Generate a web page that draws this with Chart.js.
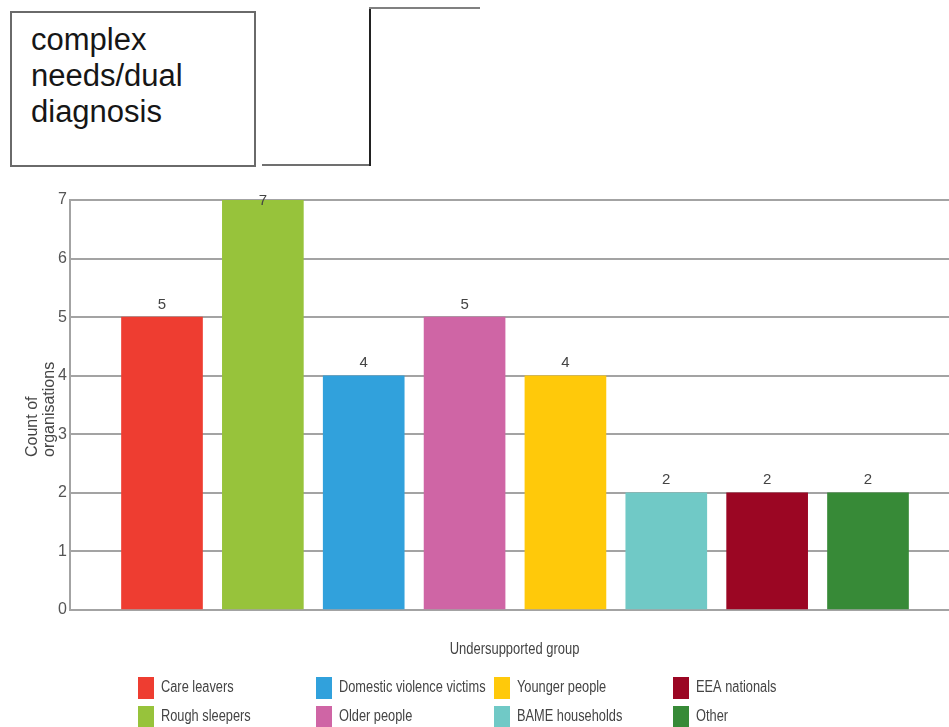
<!DOCTYPE html>
<html>
<head>
<meta charset="utf-8">
<script src="https://cdn.jsdelivr.net/npm/chart.js@4/dist/chart.umd.min.js"></script>
<style>
  html, body { margin: 0; padding: 0; background: #fff; }
  body { width: 949px; height: 727px; position: relative; overflow: hidden; }
  #chart { position: absolute; left: 0; top: 0; }
  .box {
    position: absolute; left: 10px; top: 11px; width: 242px; height: 152px;
    border: 2px solid #6a6a6a; background: #fff; z-index: 2;
  }
  .box .txt {
    position: absolute; left: 19px; top: 9px;
    font-family: "Liberation Sans", Arial, sans-serif; font-size: 31px; line-height: 36px;
    color: #161616;
  }
  .ln { position: absolute; z-index: 2; }
</style>
</head>
<body>
<div class="box"><div class="txt">complex<br>needs/dual<br>diagnosis</div></div>
<div class="ln" style="left:262px; top:164px; width:109px; height:2px; background:#707070;"></div>
<div class="ln" style="left:369px; top:7px; width:2px; height:159px; background:#222;"></div>
<div class="ln" style="left:369px; top:7px; width:111px; height:2px; background:#808080;"></div>
<canvas id="chart" width="949" height="727"></canvas>
<script>
// Organisations reporting each group as undersupported
const categories = [
  'Care leavers', 'Rough sleepers', 'Domestic violence victims', 'Older people',
  'Younger people', 'BAME households', 'EEA nationals', 'Other'
];
const counts = [5, 7, 4, 5, 4, 2, 2, 2];
const barColors = ['#ee3d31', '#97c33b', '#31a1dc', '#cf65a5', '#ffc90a', '#70c9c6', '#9b0623', '#378a37'];
const yTicks = [0, 1, 2, 3, 4, 5, 6, 7];
const xTitle = 'Undersupported group';
const yTitle = ['Count of', 'organisations'];

const SANS = '"Liberation Sans", Arial, sans-serif';

// Draw text squeezed horizontally (condensed look)
function condensedText(ctx, text, x, y, squeeze) {
  ctx.save();
  ctx.translate(x, y);
  ctx.scale(squeeze, 1);
  ctx.fillText(text, 0, 0);
  ctx.restore();
}

// Value printed above each bar
const valueLabels = {
  id: 'valueLabels',
  afterDatasetsDraw(chart) {
    const ctx = chart.ctx;
    const meta = chart.getDatasetMeta(0);
    ctx.save();
    ctx.font = '15px ' + SANS;
    ctx.fillStyle = '#444';
    ctx.textAlign = 'center';
    ctx.textBaseline = 'bottom';
    meta.data.forEach((bar, i) => {
      const y = Math.max(bar.y - 5, chart.chartArea.top + 8);
      ctx.fillText(String(counts[i]), bar.x, y);
    });
    ctx.restore();
  }
};

// Axis titles: rotated two-line y title and condensed x title
const axisTitles = {
  id: 'axisTitles',
  afterDraw(chart) {
    const ctx = chart.ctx;
    const area = chart.chartArea;
    ctx.save();
    ctx.fillStyle = '#444';
    ctx.font = '16px ' + SANS;
    ctx.textAlign = 'left';
    ctx.textBaseline = 'middle';
    const xs = [33, 50];
    yTitle.forEach((line, i) => {
      ctx.save();
      ctx.translate(xs[i], 457);
      ctx.rotate(-Math.PI / 2);
      ctx.fillText(line, 0, 0);
      ctx.restore();
    });
    ctx.textAlign = 'center';
    condensedText(ctx, xTitle, (area.left + area.right) / 2 + 5, area.bottom + 40, 0.81);
    ctx.restore();
  }
};

// Legend in four columns of two entries
const gridLegend = {
  id: 'gridLegend',
  afterDraw(chart) {
    const ctx = chart.ctx;
    const colX = [138, 316, 494, 673];
    const rowY = [677, 706];
    ctx.save();
    ctx.font = '16px ' + SANS;
    ctx.textBaseline = 'middle';
    ctx.textAlign = 'left';
    categories.forEach((name, i) => {
      const c = Math.floor(i / 2), r = i % 2;
      const x = colX[c], y = rowY[r];
      ctx.fillStyle = barColors[i];
      ctx.fillRect(x, y, 16, 22);
      ctx.fillStyle = '#444';
      condensedText(ctx, name, x + 23, y + 11, 0.8);
    });
    ctx.restore();
  }
};

new Chart(document.getElementById('chart'), {
  type: 'bar',
  data: {
    datasets: [{
      data: counts.map((v, i) => ({ x: i, y: v })),
      backgroundColor: barColors,
      borderWidth: 0,
      barThickness: 81
    }]
  },
  options: {
    responsive: false,
    animation: false,
    layout: { padding: { top: 200, right: 0, bottom: 117, left: 0 } },
    plugins: { legend: { display: false }, tooltip: { enabled: false } },
    scales: {
      x: {
        type: 'linear',
        display: false,
        offset: false,
        min: -0.9122,
        max: 7.8031
      },
      y: {
        min: 0,
        max: 7,
        afterBuildTicks(scale) { scale.ticks = yTicks.map(v => ({ value: v })); },
        afterFit(scale) { scale.width = 70; },
        ticks: { padding: 3, color: '#555', font: { family: SANS, size: 16 } },
        grid: { color: '#a3a3a3', lineWidth: 2, drawTicks: false },
        border: { color: '#a3a3a3', width: 2 }
      }
    }
  },
  plugins: [valueLabels, axisTitles, gridLegend]
});
</script>
</body>
</html>
